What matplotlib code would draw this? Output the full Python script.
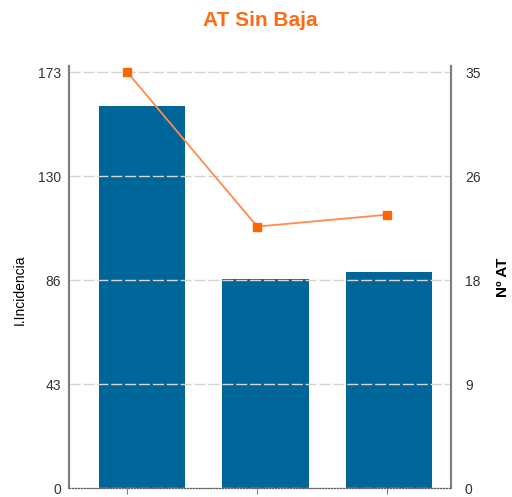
import numpy as np
import matplotlib
matplotlib.use("Agg")
import matplotlib.pyplot as plt

plt.rcParams["font.family"] = ["Liberation Sans", "DejaVu Sans"]

# data
incidencia = [159, 87, 90]      # bars, left axis
num_at = [35, 22, 23]           # line, right axis
left_ticks = [0, 43, 86, 130, 173]
right_ticks = [0, 9, 18, 26, 35]

x = np.arange(len(incidencia))
pos = [0.135, 0.018, 0.746, 0.849]

fig = plt.figure(figsize=(5.12, 4.97), dpi=100)
ax = fig.add_axes(pos)

ax.bar(x, incidencia, width=0.70, color="#00669a", zorder=1)
ax.set_xlim(-0.591, 2.502)
ax.set_ylim(0, 175.5)
ax.set_yticks(np.linspace(0, 173, 5))
ax.set_yticklabels([str(t) for t in left_ticks])
ax.set_xticks([])
ax.tick_params(axis="y", length=0, pad=6, labelsize=10, labelcolor="#333333")
ax.grid(axis="y", color="#d4d4d4", linestyle=(0, (8, 2)), linewidth=1, zorder=2)
ax.set_axisbelow(False)
ax.set_ylabel("I.Incidencia", fontsize=10)
ax.yaxis.set_label_coords(-0.11, 0.47)

# line on its own axes (its x positions sit slightly apart from the bars)
ax2 = fig.add_axes(pos, facecolor="none")
ax2.plot(x, num_at, color="#ff8a4c", linewidth=1.3, marker="s", markersize=6,
         markerfacecolor="#ff6600", markeredgecolor="#ff6600", zorder=3)
ax2.set_xlim(-0.446, 2.49)
ax2.set_ylim(0, 35.5)
ax2.set_xticks(x)
ax2.set_xticklabels([])
ax2.tick_params(axis="x", length=4, color="#808080")
ax2.yaxis.tick_right()
ax2.yaxis.set_label_position("right")
ax2.set_yticks(np.linspace(0, 35, 5))
ax2.set_yticklabels([str(t) for t in right_ticks])
ax2.tick_params(axis="y", length=0, pad=10, labelsize=10, labelcolor="#333333")
ax2.set_ylabel("Nº AT", fontsize=11, fontweight="bold", labelpad=11)

for a in (ax, ax2):
    a.spines["top"].set_visible(False)
    a.spines["left"].set_color("#808080")
    a.spines["right"].set_color("#808080")
    a.spines["left"].set_linewidth(1.5)
    a.spines["right"].set_linewidth(1.5)
    a.spines["bottom"].set_color("#606060")
    a.spines["bottom"].set_linestyle(":")

fig.text(0.508, 0.958, "AT Sin Baja", ha="center", va="center",
         fontsize=15, fontweight="bold", color="#ff6a13")

fig.savefig("out.png", dpi=100)
